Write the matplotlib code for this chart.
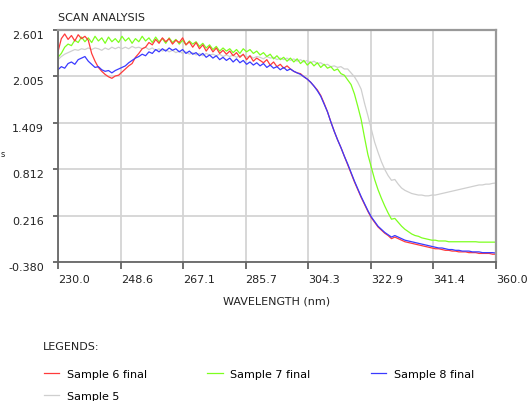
import numpy as np
import matplotlib
matplotlib.use("Agg")
import matplotlib.pyplot as plt

# wavelength grid (nm), 1 nm steps
wavelength = np.arange(230, 361)

sample6 = [
    2.32, 2.49, 2.55, 2.48, 2.53, 2.46, 2.54, 2.49, 2.52, 2.47,
    2.30, 2.20, 2.12, 2.07, 2.03, 2.00, 1.98, 2.01, 2.02, 2.06,
    2.10, 2.14, 2.17, 2.25, 2.30, 2.36, 2.38, 2.44, 2.41, 2.48,
    2.43, 2.50, 2.45, 2.49, 2.42, 2.47, 2.44, 2.50, 2.41, 2.45,
    2.38, 2.44, 2.36, 2.41, 2.33, 2.39, 2.32, 2.37, 2.30, 2.34,
    2.29, 2.33, 2.27, 2.31, 2.25, 2.29, 2.22, 2.27, 2.20, 2.24,
    2.21, 2.18, 2.22, 2.15, 2.19, 2.13, 2.16, 2.11, 2.14, 2.10,
    2.07, 2.05, 2.04, 2.00, 1.97, 1.93, 1.88, 1.83, 1.76, 1.66,
    1.55, 1.42, 1.30, 1.19, 1.09, 0.98, 0.87, 0.76, 0.65, 0.55,
    0.45, 0.36, 0.27, 0.19, 0.13, 0.07, 0.03, -0.01, -0.04, -0.08,
    -0.06, -0.08, -0.10, -0.12, -0.13, -0.14, -0.15, -0.16, -0.17, -0.18,
    -0.19, -0.20, -0.21, -0.21, -0.22, -0.23, -0.23, -0.24, -0.24, -0.25,
    -0.25, -0.25, -0.26, -0.26, -0.26, -0.27, -0.27, -0.27, -0.27, -0.28, -0.28,
]

sample7 = [
    2.25, 2.30, 2.38, 2.42, 2.40, 2.47, 2.44, 2.51, 2.45, 2.50,
    2.44, 2.52, 2.46, 2.50, 2.43, 2.51, 2.45, 2.49, 2.44, 2.52,
    2.46, 2.50, 2.43, 2.49, 2.45, 2.52, 2.46, 2.50, 2.44, 2.51,
    2.45, 2.49, 2.43, 2.50, 2.44, 2.48, 2.42, 2.47, 2.41, 2.46,
    2.42, 2.45, 2.39, 2.43, 2.37, 2.41, 2.35, 2.39, 2.33, 2.37,
    2.33, 2.36, 2.31, 2.35, 2.30, 2.36, 2.32, 2.35, 2.30, 2.33,
    2.28, 2.31, 2.26, 2.29, 2.23, 2.27, 2.22, 2.25, 2.20, 2.24,
    2.19, 2.23, 2.17, 2.21, 2.15, 2.19, 2.14, 2.18, 2.12, 2.16,
    2.11, 2.13, 2.08, 2.10, 2.04, 2.02, 1.96, 1.90, 1.78, 1.62,
    1.45, 1.22, 1.00, 0.84, 0.68, 0.55, 0.44, 0.34, 0.25, 0.17,
    0.18, 0.13, 0.08, 0.04, 0.01, -0.02, -0.04, -0.05, -0.07, -0.08,
    -0.09, -0.10, -0.10, -0.11, -0.11, -0.11, -0.12, -0.12, -0.12, -0.12,
    -0.12, -0.12, -0.12, -0.12, -0.12, -0.125, -0.125, -0.125, -0.125, -0.125, -0.125,
]

sample8 = [
    2.09, 2.13, 2.11, 2.17, 2.19, 2.16, 2.22, 2.24, 2.26, 2.20,
    2.16, 2.12, 2.13, 2.09, 2.07, 2.08, 2.05, 2.08, 2.10, 2.12,
    2.14, 2.18, 2.21, 2.24, 2.26, 2.29, 2.27, 2.32, 2.30, 2.35,
    2.32, 2.36, 2.33, 2.37, 2.34, 2.36, 2.32, 2.35, 2.30, 2.33,
    2.29, 2.31, 2.27, 2.30, 2.25, 2.28, 2.24, 2.27, 2.22, 2.25,
    2.21, 2.24, 2.19, 2.23, 2.18, 2.21, 2.16, 2.19, 2.15, 2.18,
    2.14, 2.17, 2.12, 2.15, 2.11, 2.13, 2.09, 2.12, 2.08, 2.10,
    2.07, 2.05, 2.03, 2.00, 1.97, 1.93, 1.88, 1.82, 1.75, 1.65,
    1.55, 1.42, 1.30, 1.19, 1.09, 0.98, 0.88, 0.77, 0.66, 0.56,
    0.46, 0.37, 0.28, 0.20, 0.14, 0.08, 0.04, 0.00, -0.03, -0.06,
    -0.04, -0.06, -0.08, -0.10, -0.11, -0.12, -0.13, -0.14, -0.15, -0.16,
    -0.17, -0.18, -0.19, -0.20, -0.20, -0.21, -0.22, -0.22, -0.23, -0.23,
    -0.24, -0.24, -0.24, -0.25, -0.25, -0.25, -0.26, -0.26, -0.26, -0.26, -0.265,
]

sample5 = [
    2.22, 2.26, 2.29, 2.31, 2.33, 2.35, 2.34, 2.36, 2.35, 2.37,
    2.35, 2.37, 2.36, 2.34, 2.37, 2.35, 2.38, 2.36, 2.38, 2.36,
    2.38, 2.36, 2.39, 2.37, 2.38, 2.36, 2.38, 2.35, 2.37, 2.34,
    2.36, 2.33, 2.35, 2.32, 2.34, 2.31, 2.33, 2.30, 2.32, 2.29,
    2.31, 2.28, 2.30, 2.27, 2.30, 2.28, 2.29, 2.27, 2.29, 2.26,
    2.28, 2.26, 2.28, 2.25, 2.27, 2.28, 2.25, 2.27, 2.24, 2.26,
    2.25, 2.23, 2.26, 2.24, 2.25, 2.22, 2.24, 2.22, 2.24, 2.21,
    2.23, 2.20, 2.22, 2.19, 2.21, 2.18, 2.20, 2.17, 2.18, 2.15,
    2.16, 2.13, 2.14, 2.12, 2.13, 2.10, 2.10, 2.05, 2.00, 1.93,
    1.84, 1.66, 1.50, 1.33, 1.16, 1.03, 0.91, 0.81, 0.73, 0.67,
    0.68, 0.62, 0.57, 0.54, 0.52, 0.50, 0.49, 0.48, 0.48, 0.47,
    0.47, 0.48, 0.48, 0.49, 0.50, 0.51, 0.52, 0.53, 0.54, 0.55,
    0.56, 0.57, 0.58, 0.59, 0.60, 0.61, 0.61, 0.62, 0.62, 0.63, 0.635,
]

xticks = [230.0, 248.6, 267.1, 285.7, 304.3, 322.9, 341.4, 360.0]
yticks = [-0.380, 0.216, 0.812, 1.409, 2.005, 2.601]

series = [
    ("Sample 6 final", sample6, "#ff3b3b"),
    ("Sample 7 final", sample7, "#7dff1f"),
    ("Sample 8 final", sample8, "#3a3aff"),
    ("Sample 5", sample5, "#cfcfcf"),
]

plt.rcParams["font.family"] = ["DejaVu Sans"]

fig = plt.figure(figsize=(5.27, 4.02), dpi=100)
ax = fig.add_axes([0.110, 0.3458, 0.831, 0.5771])

lines = {}
# gray first so it sits under the others
for name, vals, col in [series[3], series[1], series[0], series[2]]:
    ln, = ax.plot(wavelength, vals, color=col, lw=0.9)
    lines[name] = ln

ax.set_xlim(230, 360)
ax.set_ylim(-0.380, 2.601)
ax.set_xticks(xticks)
ax.set_xticklabels([f"{v:.1f}" for v in xticks], ha="left")
ax.set_yticks(yticks)
ax.set_yticklabels([f"{v:.3f}" for v in yticks], va="top")
ax.grid(True, color="#d4d4d4", lw=1.3)
ax.set_axisbelow(True)
ax.tick_params(axis="both", labelsize=8, colors="#555555", labelcolor="#222222",
               width=1.2)
ax.tick_params(axis="x", length=5, pad=4)
ax.tick_params(axis="y", length=3.6, pad=6.5)
for s in ["left", "bottom"]:
    ax.spines[s].set_color("#666666")
    ax.spines[s].set_linewidth(1.3)
for s in ["top", "right"]:
    ax.spines[s].set_color("#999999")
    ax.spines[s].set_linewidth(1.6)

ax.set_xlabel("WAVELENGTH (nm)", fontsize=8, color="#222222", labelpad=8)
fig.text(0.110, 1 - 18 / 402, "SCAN ANALYSIS", fontsize=8, color="#222222",
         ha="left", va="center")
fig.text(0.006, 1 - 155 / 402, "s", fontsize=6, color="#222222",
         ha="center", va="center")

# legend block
fig.text(43 / 527, 1 - 347 / 402, "LEGENDS:", fontsize=8, color="#222222",
         ha="left", va="center")
order = ["Sample 6 final", "Sample 5", "Sample 7 final", "Sample 8 final"]
fig.legend([lines[n] for n in order], order, ncol=3, frameon=False,
           loc="upper left", bbox_to_anchor=(38 / 527, 1 - 364 / 402),
           fontsize=8, handlelength=1.4, handletextpad=0.7,
           columnspacing=5.4, labelspacing=1.1, borderpad=0)

fig.savefig("out.png", dpi=100)
